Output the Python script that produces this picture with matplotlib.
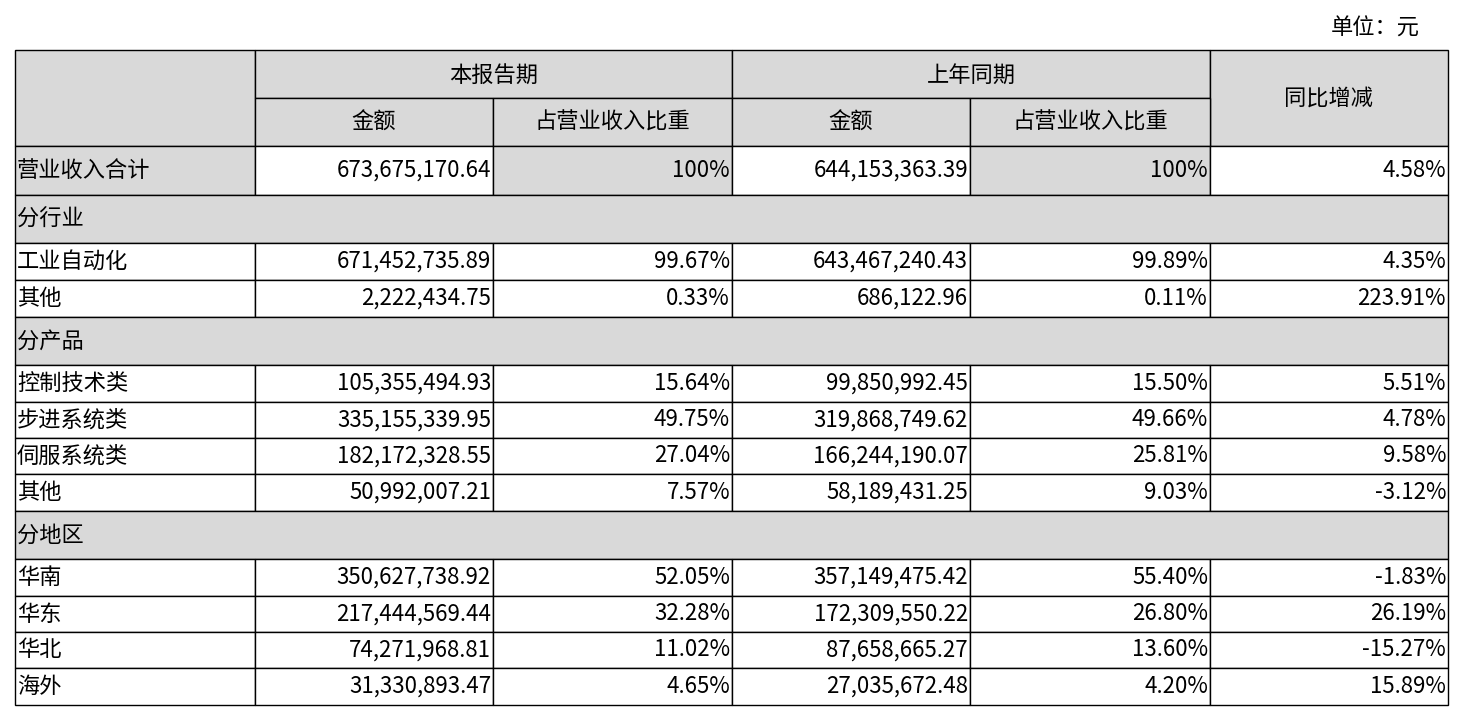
import matplotlib.pyplot as plt
from matplotlib.patches import Rectangle

plt.rcParams['font.family'] = ['Noto Sans CJK SC', 'DejaVu Sans']

# table content
row_labels = ['营业收入合计', '分行业', '工业自动化', '其他', '分产品', '控制技术类', '步进系统类',
              '伺服系统类', '其他', '分地区', '华南', '华东', '华北', '海外']
section_rows = ['分行业', '分产品', '分地区']
cur_amount = ['673,675,170.64', '', '671,452,735.89', '2,222,434.75', '', '105,355,494.93',
              '335,155,339.95', '182,172,328.55', '50,992,007.21', '', '350,627,738.92',
              '217,444,569.44', '74,271,968.81', '31,330,893.47']
cur_share = ['100%', '', '99.67%', '0.33%', '', '15.64%', '49.75%', '27.04%', '7.57%', '',
             '52.05%', '32.28%', '11.02%', '4.65%']
prev_amount = ['644,153,363.39', '', '643,467,240.43', '686,122.96', '', '99,850,992.45',
               '319,868,749.62', '166,244,190.07', '58,189,431.25', '', '357,149,475.42',
               '172,309,550.22', '87,658,665.27', '27,035,672.48']
prev_share = ['100%', '', '99.89%', '0.11%', '', '15.50%', '49.66%', '25.81%', '9.03%', '',
              '55.40%', '26.80%', '13.60%', '4.20%']
yoy = ['4.58%', '', '4.35%', '223.91%', '', '5.51%', '4.78%', '9.58%', '-3.12%', '',
       '-1.83%', '26.19%', '-15.27%', '15.89%']

col_x = [15, 255, 493, 732, 970, 1210, 1448]
row_y = [146, 195, 243, 280, 317, 365, 402, 438, 474, 511, 559, 596, 632, 668, 705]
gray = '#d9d9d9'
fs = 16

fig = plt.figure(figsize=(14.65, 7.19), dpi=100)
ax = fig.add_axes([0, 0, 1, 1])
ax.set_xlim(0, 1465)
ax.set_ylim(719, 0)
ax.axis('off')

def cell(x0, x1, y0, y1, color='white'):
    ax.add_patch(Rectangle((x0, y0), x1 - x0, y1 - y0, facecolor=color,
                           edgecolor='black', linewidth=1))

# header
cell(col_x[0], col_x[1], 50, 146, gray)
cell(col_x[1], col_x[3], 50, 98, gray)
cell(col_x[3], col_x[5], 50, 98, gray)
cell(col_x[5], col_x[6], 50, 146, gray)
for i in range(1, 5):
    cell(col_x[i], col_x[i + 1], 98, 146, gray)
ax.text((col_x[1] + col_x[3]) / 2, 75, '本报告期', ha='center', va='center', fontsize=fs)
ax.text((col_x[3] + col_x[5]) / 2, 75, '上年同期', ha='center', va='center', fontsize=fs)
ax.text((col_x[5] + col_x[6]) / 2, 98, '同比增减', ha='center', va='center', fontsize=fs)
for i, h in zip(range(1, 5), ['金额', '占营业收入比重', '金额', '占营业收入比重']):
    ax.text((col_x[i] + col_x[i + 1]) / 2, 122, h, ha='center', va='center', fontsize=fs)
ax.text(1420, 28, '单位：元', ha='right', va='center', fontsize=fs)

cols = [cur_amount, cur_share, prev_amount, prev_share, yoy]
for r, label in enumerate(row_labels):
    y0, y1 = row_y[r], row_y[r + 1]
    ym = (y0 + y1) / 2
    if label in section_rows:
        cell(col_x[0], col_x[6], y0, y1, gray)
        ax.text(col_x[0] + 2, ym, label, ha='left', va='center', fontsize=fs)
        continue
    cell(col_x[0], col_x[1], y0, y1, gray if r == 0 else 'white')
    ax.text(col_x[0] + 2, ym, label, ha='left', va='center', fontsize=fs)
    for c, vals in enumerate(cols):
        color = gray if (r == 0 and c in (1, 3)) else 'white'
        cell(col_x[c + 1], col_x[c + 2], y0, y1, color)
        ax.text(col_x[c + 2] - 2, ym, vals[r], ha='right', va='center', fontsize=fs)

fig.savefig('out.png', dpi=100)
